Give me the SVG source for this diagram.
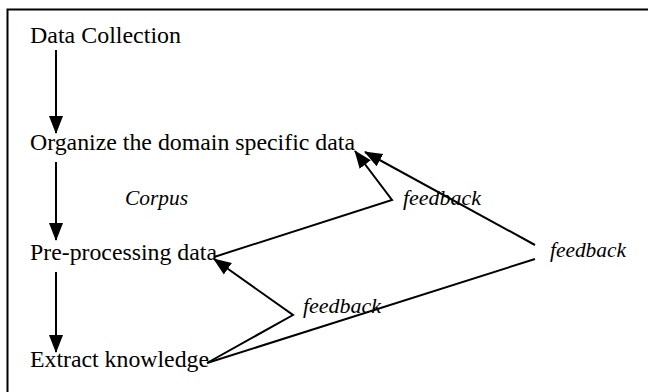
<svg xmlns="http://www.w3.org/2000/svg" width="648" height="392" viewBox="0 0 648 392">
<style>
text{font-family:"Liberation Serif","DejaVu Serif Condensed","DejaVu Serif",serif;fill:#000}
.t{font-size:23px}
.i{font-size:20px;font-style:italic}
.c{fill:none;stroke:#000;stroke-width:2}
</style>
<defs>
<marker id="ah" markerUnits="userSpaceOnUse" markerWidth="18" markerHeight="16" refX="17" refY="7" orient="auto" viewBox="0 0 18 14">
<path d="M0,0 L18,7 L0,14 z" fill="#000"/>
</marker>
</defs>
<rect x="0" y="0" width="648" height="392" fill="#fff"/>
<path d="M7.5,392 V9.5 H648" fill="none" stroke="#000" stroke-width="2"/>
<g id="n1"><text class="t" x="30" y="43" textLength="151" lengthAdjust="spacingAndGlyphs">Data Collection</text></g>
<g id="n2"><text class="t" x="30" y="150" textLength="325" lengthAdjust="spacingAndGlyphs">Organize the domain specific data</text></g>
<g id="n3"><text class="t" x="30" y="260" textLength="187" lengthAdjust="spacingAndGlyphs">Pre-processing data</text></g>
<g id="n4"><text class="t" x="30" y="367" textLength="179" lengthAdjust="spacingAndGlyphs">Extract knowledge</text></g>
<g id="labels">
<text class="i" x="125" y="205" textLength="63" lengthAdjust="spacingAndGlyphs">Corpus</text>
<text class="i" x="403" y="205" textLength="78" lengthAdjust="spacingAndGlyphs">feedback</text>
<text class="i" x="550" y="257" textLength="76" lengthAdjust="spacingAndGlyphs">feedback</text>
<text class="i" x="303" y="313" textLength="78" lengthAdjust="spacingAndGlyphs">feedback</text>
</g>
<g id="connectors">
<line class="c" x1="56" y1="50" x2="56" y2="133" marker-end="url(#ah)"/>
<line class="c" x1="56" y1="162" x2="56" y2="240" marker-end="url(#ah)"/>
<line class="c" x1="56" y1="272" x2="56" y2="352" marker-end="url(#ah)"/>
<polyline class="c" points="214,257 392,200 355,151" marker-end="url(#ah)"/>
<line class="c" x1="535" y1="245" x2="365" y2="152" marker-end="url(#ah)"/>
<polyline class="c" points="207,363 293,315 214,259" marker-end="url(#ah)"/>
<line class="c" x1="207" y1="363" x2="535" y2="259"/>
</g>
</svg>
